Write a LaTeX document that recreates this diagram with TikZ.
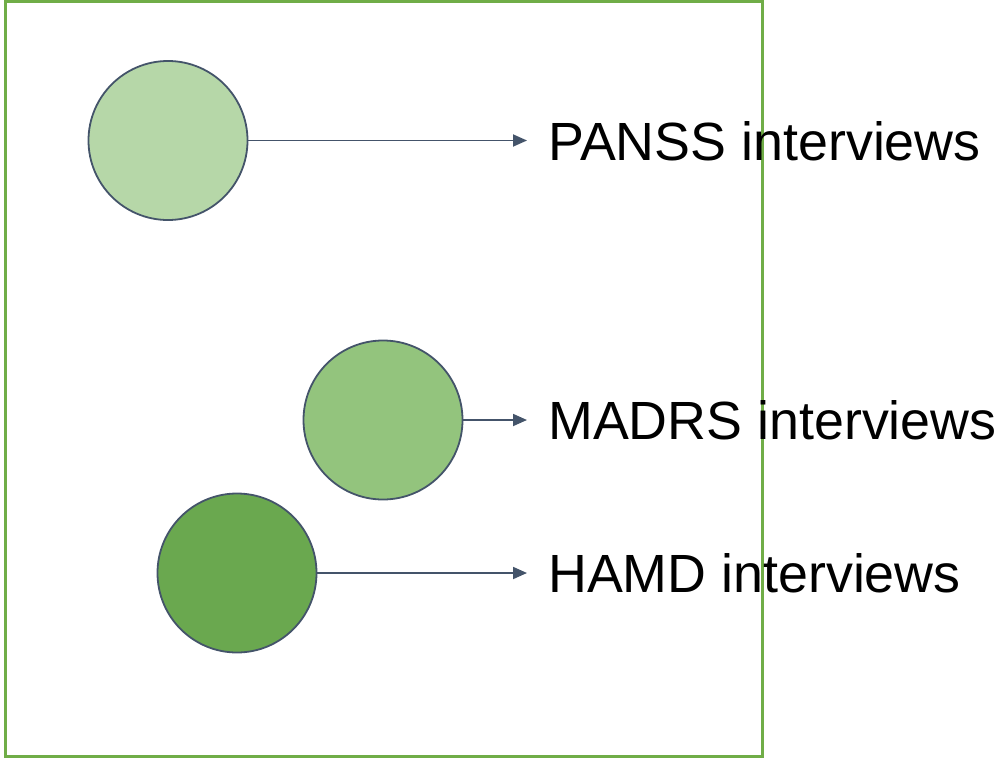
\documentclass[tikz,border=0pt]{standalone}
\usepackage{fontspec}
\setmainfont{Liberation Sans}
\usetikzlibrary{arrows.meta}
\definecolor{frameGreen}{HTML}{70AD47}
\definecolor{edgeBlue}{HTML}{44546A}
\definecolor{fillLight}{HTML}{B6D7A8}
\definecolor{fillMid}{HTML}{93C47D}
\definecolor{fillDark}{HTML}{6AA84F}
\tikzset{
  dot/.style={circle, draw=edgeBlue, line width=1.8pt, minimum size=159pt, inner sep=0pt},
  lbl/.style={anchor=base west, inner sep=0pt, font=\fontsize{53.8}{60}\selectfont},
  link/.style={draw=edgeBlue, line width=1.8pt, -{Triangle[length=14pt,width=12pt]}}
}
\begin{document}
\begin{tikzpicture}[x=1pt,y=-1pt]
\useasboundingbox (0,0) rectangle (1000,757);
% outer frame
\draw[frameGreen, line width=3pt] (5,1.5) rectangle (762,756);
% scales
\node[dot, fill=fillLight] (c1) at (168,140.5) {};
\node[dot, fill=fillMid] (c2) at (383,420) {};
\node[dot, fill=fillDark] (c3) at (237,573) {};
% arrow ends
\coordinate (a1) at (527,140.5);
\coordinate (a2) at (527,420);
\coordinate (a3) at (527,573);
\draw[link] (c1.east) -- (a1);
\draw[link] (c2.east) -- (a2);
\draw[link] (c3.east) -- (a3);
% labels
\node[lbl] (t1) at (548,160) {PANSS interviews};
\node[lbl] (t2) at (548,439.5) {MADRS interviews};
\node[lbl] (t3) at (548,592.5) {HAMD interviews};
\end{tikzpicture}
\end{document}
